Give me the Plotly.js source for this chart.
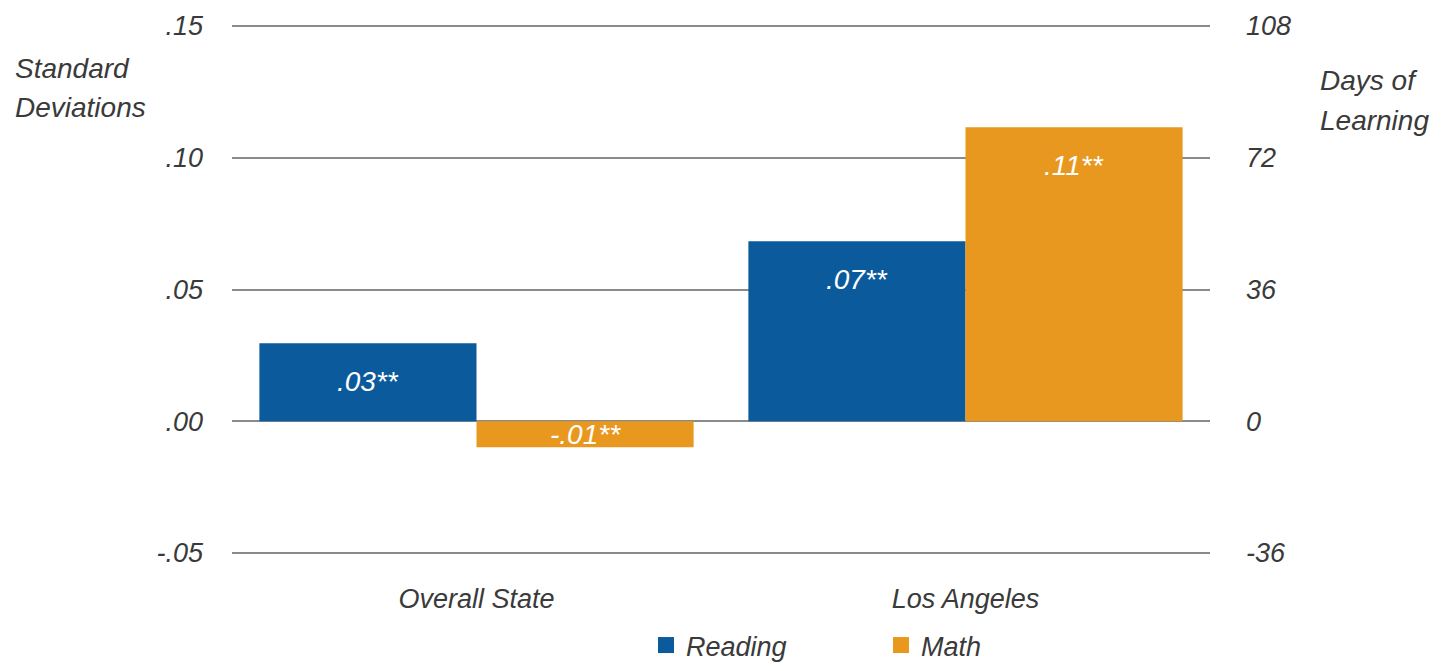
<!DOCTYPE html>
<html>
<head>
<meta charset="utf-8">
<script src="https://cdn.plot.ly/plotly-3.0.1.min.js"></script>
<style>html,body{margin:0;padding:0;background:#fff;}#chart{width:1443px;height:671px;}</style>
</head>
<body>
<div id="chart"></div>
<script>
const categories = ["Overall State", "Los Angeles"];
const readingValues = [0.0296, 0.0683];
const mathValues = [-0.0099, 0.1116];
const readingLabels = [".03**", ".07**"];
const mathLabels = ["-.01**", ".11**"];
const leftTickVals = [-0.05, 0, 0.05, 0.10, 0.15];
const leftTickText = ["-.05", ".00", ".05", ".10", ".15"];
const rightTickVals = [-36, 0, 36, 72, 108];
const rightTickText = ["-36", "0", "36", "72", "108"];
const DAYS_PER_SD = 720;

const FONT = "Liberation Sans, Arial, sans-serif";
const GRAY = "#3a3a3a";
const BLUE = "#0a5a9c";
const ORANGE = "#e8981e";
const BARGAP = 0.112;
const half = (1 - BARGAP) / 4;
const PAD = 0.00114;
const leftRange = [-0.05 - PAD, 0.15 + PAD];
const rightRange = leftRange.map(v => v * DAYS_PER_SD);

const traces = [
  {type: "bar", name: "Reading", x: categories, y: readingValues,
   marker: {color: BLUE}, hoverinfo: "skip", showlegend: false},
  {type: "bar", name: "Math", x: categories, y: mathValues,
   marker: {color: ORANGE}, hoverinfo: "skip", showlegend: false},
  {type: "scatter", mode: "markers", name: "<i>Reading</i>", x: [categories[0]], y: [null],
   marker: {symbol: "square", size: 16, color: BLUE}, hoverinfo: "skip"},
  {type: "scatter", mode: "markers", name: "<i>Math</i>", x: [categories[0]], y: [null],
   marker: {symbol: "square", size: 16, color: ORANGE}, hoverinfo: "skip"},
  {type: "scatter", x: [], y: [], yaxis: "y2", showlegend: false, hoverinfo: "skip"}
];

const annotations = [];
function addLabels(vals, labels, off) {
  vals.forEach((v, i) => {
    annotations.push({
      x: i + off, xref: "x", y: v >= 0 ? v : v / 2, yref: "y",
      yshift: v >= 0 ? -38 : 0, yanchor: "middle", xanchor: "center",
      text: "<i>" + labels[i] + "</i>", showarrow: false,
      font: {family: FONT, size: 28, color: "#ffffff"}
    });
  });
}
addLabels(readingValues, readingLabels, -half);
addLabels(mathValues, mathLabels, half);

const PT = 23, PB = 671 - 115, PL = 232, PR = 1210;
const px2x = p => (p - PL) / (PR - PL);
const py2y = p => (PB - p) / (PB - PT);
function titleLine(txt, xp, yp) {
  annotations.push({
    xref: "paper", yref: "paper", x: px2x(xp), y: py2y(yp),
    xanchor: "left", yanchor: "middle", align: "left", showarrow: false,
    text: "<i>" + txt + "</i>", font: {family: FONT, size: 28, color: GRAY}
  });
}
titleLine("Standard", 13, 68);
titleLine("Deviations", 13, 108);
titleLine("Days of", 1318, 80);
titleLine("Learning", 1318, 120);

const layout = {
  width: 1443, height: 671,
  margin: {l: 232, r: 233, t: 23, b: 115, autoexpand: false},
  paper_bgcolor: "#ffffff", plot_bgcolor: "#ffffff",
  barmode: "group", bargap: BARGAP, bargroupgap: 0,
  font: {family: FONT, size: 27, color: GRAY},
  xaxis: {
    type: "category", range: [-0.5, 1.5], showgrid: false, zeroline: false,
    showline: false, ticks: "", ticklabelstandoff: 24,
    tickvals: categories, ticktext: categories.map(c => "<i>" + c + "</i>"),
    tickfont: {family: FONT, size: 27, color: GRAY}
  },
  yaxis: {
    range: leftRange, tickvals: leftTickVals,
    ticktext: leftTickText.map(t => "<i>" + t + "</i>"),
    showgrid: true, gridcolor: "#8a8a8a", gridwidth: 2,
    zeroline: true, zerolinecolor: "#8a8a8a", zerolinewidth: 2,
    showline: false, ticks: "", ticklabelstandoff: 28,
    tickfont: {family: FONT, size: 27, color: GRAY}
  },
  yaxis2: {
    overlaying: "y", side: "right", range: rightRange,
    tickvals: rightTickVals, ticktext: rightTickText.map(t => "<i>" + t + "</i>"),
    showgrid: false, zeroline: false, showline: false, ticks: "",
    ticklabelstandoff: 35,
    tickfont: {family: FONT, size: 27, color: GRAY}
  },
  legend: {
    orientation: "h", x: px2x(646), xanchor: "left", y: py2y(670), yanchor: "bottom",
    font: {family: FONT, size: 27, color: GRAY},
    itemwidth: 30, traceorder: "normal", entrywidth: 190
  },
  showlegend: true,
  annotations: annotations
};

Plotly.newPlot("chart", traces, layout, {displayModeBar: false, staticPlot: true});
</script>
</body>
</html>
